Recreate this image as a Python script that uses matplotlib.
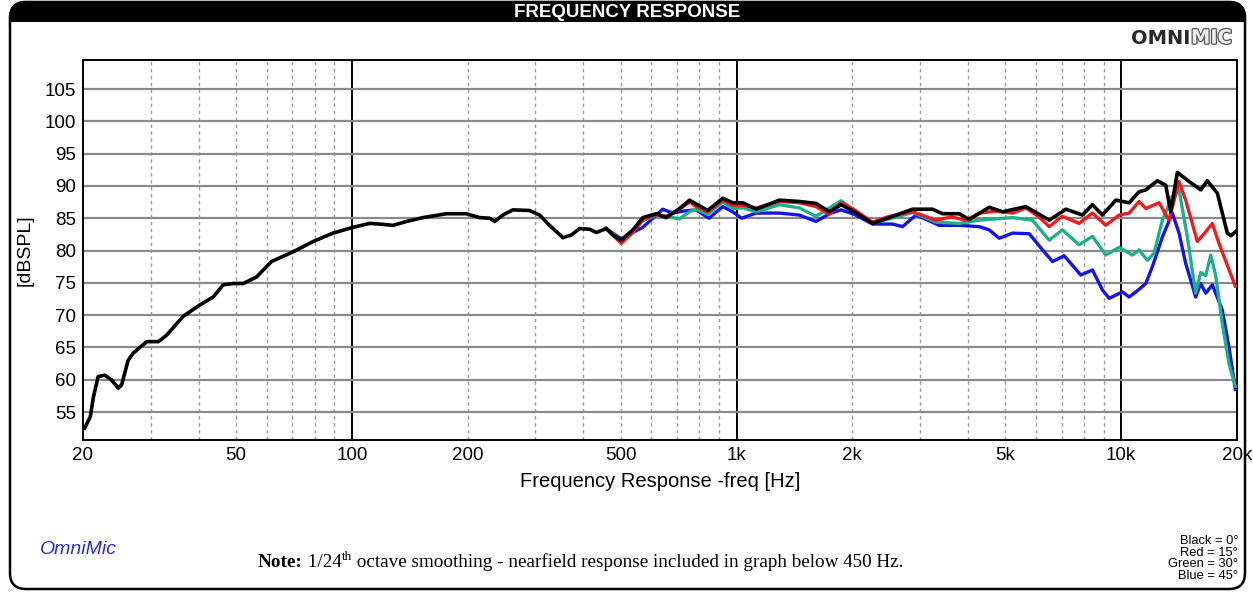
import matplotlib.pyplot as plt
from matplotlib.patches import FancyBboxPatch, Rectangle
from matplotlib import patheffects

# ---- data ----
black_f = [20.2, 20.9, 21.3, 21.9, 22.8, 23.7, 24.7, 25.2, 26.2, 27.0, 29.3, 31.4, 33.0,
           36.4, 40.3, 43.6, 46.3, 49.2, 52.2, 56.5, 61.8, 70.3, 79.3, 89.3, 100.7, 111.3,
           118.1, 127.9, 138.6, 153.1, 176.1, 198.4, 214.9, 228.1, 235.0, 247.0, 262.2,
           289.7, 307.6, 326.6, 353.7, 371.9, 390.8, 415.0, 431.9, 458.6, 477.0, 501.6,
           537.6, 570.8, 618.3, 656.4, 710.9, 754.7, 785.5, 841.7, 920.7, 977.5, 1038,
           1124, 1292, 1456, 1609, 1743, 1869, 2024, 2258, 2495, 2869, 3233, 3432, 3793,
           4026, 4538, 4914, 5652, 6499, 7183, 7930, 8419, 8936, 9683, 10489, 11133,
           11588, 12418, 13057, 13453, 13996, 15009, 16097, 16746, 17776, 18874, 19300,
           19900]
black_db = [52.5, 54.3, 57.4, 60.5, 60.7, 60.0, 58.7, 59.2, 63.0, 64.1, 65.9, 65.9, 66.9,
            69.8, 71.6, 72.8, 74.7, 74.9, 74.9, 75.9, 78.3, 79.8, 81.4, 82.7, 83.6, 84.2,
            84.1, 83.9, 84.5, 85.1, 85.7, 85.7, 85.1, 85.0, 84.5, 85.5, 86.3,
            86.2, 85.5, 83.9, 82.0, 82.4, 83.4, 83.3, 82.8, 83.4, 82.4, 81.6,
            83.2, 85.1, 85.7, 85.1, 86.5, 87.8, 87.2, 86.2, 88.1, 87.4, 87.4,
            86.4, 87.8, 87.6, 87.3, 86.0, 87.1, 86.0, 84.2, 85.1, 86.4, 86.4, 85.7, 85.7,
            84.8, 86.7, 86.0, 86.8, 84.7, 86.4, 85.5, 87.1, 85.5, 87.8, 87.4, 89.1,
            89.4, 90.8, 90.1, 86.0, 92.1, 90.7, 89.4, 90.8, 88.9, 82.7, 82.3,
            83.0]

red_f = [458.6, 501.6, 537.6, 570.8, 618.3, 656.4, 710.9, 754.7, 785.5, 841.7, 920.7,
         977.5, 1038, 1124, 1292, 1456, 1609, 1743, 1869, 2024, 2258, 2495, 2869, 3300,
         3620, 3948, 4276, 4724, 5218, 5652, 6118, 6499, 7033, 7773, 8419, 9120, 9876,
         10489, 11133, 11588, 12545, 13317, 14137, 14714, 15775, 16586, 17254, 17957,
         19800]
red_db = [83.4, 81.1, 82.8, 84.8, 85.6, 85.3, 86.4, 87.5, 86.8, 86.0, 87.8,
          87.0, 87.0, 86.6, 87.6, 87.4, 86.8, 85.6, 87.4, 86.3, 84.4, 85.3, 86.0, 84.7,
          85.2, 84.7, 85.8, 86.1, 85.8, 86.6, 85.2, 83.7, 85.3, 84.2, 85.8, 83.9, 85.5,
          85.8, 87.6, 86.5, 87.4, 84.7, 90.7, 87.8, 81.4, 82.9, 84.2, 81.1,
          74.5]

green_f = [458.6, 501.6, 537.6, 570.8, 618.3, 656.4, 710.9, 754.7, 785.5, 841.7, 920.7,
           977.5, 1038, 1124, 1292, 1456, 1609, 1869, 2024, 2258, 2869, 3300, 3793, 4276,
           5218, 5877, 6499, 7033, 7773, 8419, 9120, 9876, 10692, 11133, 11698, 12175,
           12796, 13583, 14137, 14859, 15619, 16097, 16586, 17090, 17609, 18316, 19059,
           19800]
green_db = [83.4, 81.5, 83.0, 84.6, 85.5, 85.3, 84.9, 86.0, 86.4, 85.6, 87.5,
            86.5, 86.6, 86.0, 87.1, 86.6, 85.3, 87.7, 86.3, 84.2, 85.9, 84.4, 84.2, 84.7,
            85.1, 84.7, 81.6, 83.2, 80.9, 82.2, 79.3, 80.5, 79.3, 80.1, 78.5, 79.6,
            84.7, 88.4, 89.4, 82.1, 73.4, 76.6, 76.1, 79.3, 76.1, 68.7, 62.5,
            59.0]

blue_f = [458.6, 501.6, 537.6, 570.8, 643, 683, 725, 785, 848, 921, 977, 1030, 1124,
          1292, 1456, 1609, 1743, 1869, 2024, 2258, 2545, 2701, 2927, 3366, 3793, 4276,
          4538, 4819, 5218, 5767, 6245, 6630, 7107, 7852, 8419, 8936, 9303, 10073, 10489,
          11133, 11588, 12051, 12796, 13583, 14137, 14714, 15619, 16097, 16586, 17254,
          18316, 19059, 19800]
blue_db = [83.4, 81.8, 82.8, 83.6, 86.4, 85.8, 86.1, 86.3, 85.0, 86.8, 86.0, 85.0, 85.8,
           85.8, 85.5, 84.5, 85.7, 86.3, 85.6, 84.1, 84.1, 83.7, 85.5, 83.9, 83.9, 83.7,
           83.2, 81.9, 82.7, 82.6, 80.1, 78.3, 79.2, 76.2, 77.0, 73.9, 72.6, 73.6, 72.8,
           74.0, 74.9, 77.5, 82.1, 85.8, 82.7, 78.0, 72.8, 74.9, 73.4, 74.7,
           70.8, 65.1, 58.5]

x_ticks = [20, 50, 100, 200, 500, 1000, 2000, 5000, 10000, 20000]
x_labels = ["20", "50", "100", "200", "500", "1k", "2k", "5k", "10k", "20k"]
y_ticks = [55, 60, 65, 70, 75, 80, 85, 90, 95, 100, 105]

W, H = 1253, 592
fig = plt.figure(figsize=(W / 100, H / 100), dpi=100)
plt.rcParams["font.family"] = ["Liberation Sans", "DejaVu Sans"]

# background / frame in pixel coordinates
bg = fig.add_axes([0, 0, 1, 1], zorder=0)
bg.set_xlim(0, W)
bg.set_ylim(H, 0)
bg.axis("off")
bg.add_patch(FancyBboxPatch((10, 2), 1235, 40, boxstyle="round,pad=0,rounding_size=16",
                            fc="black", ec="black", lw=1.5))
bg.add_patch(Rectangle((11, 22), 1233, 30, fc="white", ec="none"))
bg.add_patch(FancyBboxPatch((10, 2), 1235, 587, boxstyle="round,pad=0,rounding_size=16",
                            fc="none", ec="black", lw=1.8))
bg.text(627, 12.5, "FREQUENCY RESPONSE", color="white", fontsize=13.5, fontweight="bold",
        ha="center", va="center")
bg.text(1190, 38, "OMNI", color="#2a2a2a", fontsize=14, fontweight="heavy",
        ha="right", va="center", family="DejaVu Sans")
bg.text(1191, 38, "MIC", color="#eeeeee", fontsize=14, fontweight="heavy",
        ha="left", va="center", family="DejaVu Sans",
        path_effects=[patheffects.withStroke(linewidth=1.8, foreground="#555555")])
bg.text(40, 550, "OmniMic", color="#2a2ad8", fontsize=14, style="italic",
        ha="left", va="center")

# note line built from pieces so the bold part and superscript sit right
fig.canvas.draw()
rend = fig.canvas.get_renderer()
serif = "Liberation Serif"
x = 258
base = 567
pieces = [("Note:", 13.8, "bold", 0), (" 1/24", 13.8, "normal", 0), ("th", 9.5, "normal", -7),
          (" octave smoothing - nearfield response included in graph below 450 Hz.",
           13.8, "normal", 0)]
for s, size, weight, dy in pieces:
    t = bg.text(x, base + dy, s, family=serif, fontsize=size, fontweight=weight,
                ha="left", va="baseline")
    x += t.get_window_extent(rend).width

legend_lines = ["Black = 0°", "Red = 15°", "Green = 30°", "Blue = 45°"]
for i, s in enumerate(legend_lines):
    bg.text(1238, 541 + i * 11.6, s, ha="right", va="center", fontsize=9.3)

# main chart
ax = fig.add_axes([83 / W, 1 - 440 / H, (1237 - 83) / W, (440 - 60) / H], zorder=1)
ax.set_xscale("log")
ax.set_xlim(20, 20000)
ax.set_ylim(50.67, 109.5)

for dec in [10, 100, 1000]:
    for m in range(2, 10):
        f = dec * m
        if 20 < f < 10000:
            ax.axvline(f, color="#9a9a9a", lw=1, ls=(0, (2.5, 2.5)), zorder=1)
for f in [100, 1000, 10000]:
    ax.axvline(f, color="black", lw=1.4, zorder=1)
for y in y_ticks:
    ax.axhline(y, color="#8a8a8a", lw=1.6, zorder=1)

ax.plot(blue_f, blue_db, color="#1414e6", lw=2.4, zorder=3)
ax.plot(green_f, green_db, color="#1fb088", lw=2.4, zorder=4)
ax.plot(red_f, red_db, color="#ee1c1c", lw=2.4, zorder=5)
ax.plot(black_f, black_db, color="black", lw=2.6, zorder=6)

ax.set_xticks(x_ticks)
ax.set_xticklabels(x_labels)
ax.xaxis.set_minor_locator(plt.NullLocator())
ax.set_yticks(y_ticks)
ax.tick_params(length=0, labelsize=13.5, pad=5)
for s in ax.spines.values():
    s.set_linewidth(1.4)
ax.set_xlabel("Frequency Response -freq [Hz]", fontsize=14.5, labelpad=6)
ax.set_ylabel("[dBSPL]", fontsize=14, labelpad=8)

fig.savefig("out.png", dpi=100)
